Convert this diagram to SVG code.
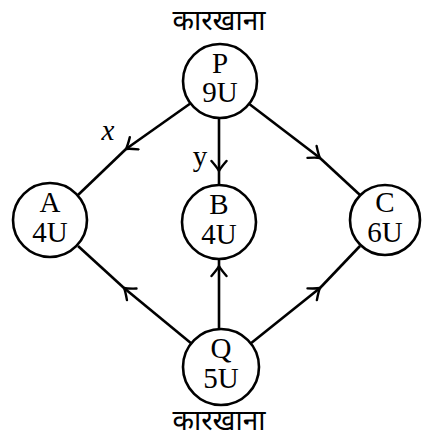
<svg xmlns="http://www.w3.org/2000/svg" width="422" height="442" viewBox="0 0 422 442">
<style>
.n{fill:#fff;stroke:#000;stroke-width:2.6}
.t{font-family:'Liberation Serif','DejaVu Serif',serif;font-size:29px;text-anchor:middle;fill:#000}
.e{stroke:#000;stroke-width:2.6;fill:none}
.h{stroke:#000;stroke-width:2.4;fill:none;stroke-linecap:round;stroke-linejoin:round}
.d{font-family:'Noto Sans Devanagari','Noto Sans','Lohit Devanagari',sans-serif;font-size:28px;text-anchor:middle;fill:#000}
</style>
<defs>
<marker id="v" viewBox="-12 -9 14 18" markerWidth="14" markerHeight="18" refX="0" refY="0" orient="auto" markerUnits="userSpaceOnUse">
<path d="M-10,-7.5 Q-3,-1.5 0,0 Q-3,1.5 -10,7.5" class="h"/>
</marker>
</defs>
<g id="connectors">
<path class="e" d="M191,103 L126,149" marker-end="url(#v)"/>
<path class="e" d="M126,149 L78,195"/>
<path class="e" d="M219,118 L219,171" marker-end="url(#v)"/>
<path class="e" d="M219,171 L219,185"/>
<path class="e" d="M248,103 L320,158" marker-end="url(#v)"/>
<path class="e" d="M320,158 L360,195"/>
<path class="e" d="M192,344 L124,288" marker-end="url(#v)"/>
<path class="e" d="M124,288 L78,246"/>
<path class="e" d="M219,328 L219,266" marker-end="url(#v)"/>
<path class="e" d="M219,266 L219,259"/>
<path class="e" d="M250,344 L320,288" marker-end="url(#v)"/>
<path class="e" d="M320,288 L360,246"/>
<text x="108" y="140" class="t" font-style="italic" font-size="30">x</text>
<text x="200" y="166" class="t" font-size="30">y</text>
</g>
<g id="P">
<text x="219" y="30" class="d">कारखाना</text>
<circle cx="220" cy="81" r="37" class="n"/>
<text x="220" y="73" class="t">P</text>
<text x="220" y="102" class="t">9U</text>
</g>
<g id="A">
<circle cx="50" cy="220" r="37" class="n"/>
<text x="50" y="212" class="t">A</text>
<text x="50" y="242" class="t">4U</text>
</g>
<g id="B">
<circle cx="219" cy="222" r="37" class="n"/>
<text x="219" y="214" class="t">B</text>
<text x="219" y="244" class="t">4U</text>
</g>
<g id="C">
<circle cx="385" cy="220" r="35" class="n"/>
<text x="385" y="212" class="t">C</text>
<text x="385" y="242" class="t">6U</text>
</g>
<g id="Q">
<circle cx="221" cy="367" r="38" class="n"/>
<text x="221" y="358" class="t">Q</text>
<text x="221" y="388" class="t">5U</text>
<text x="219" y="430" class="d">कारखाना</text>
</g>
</svg>
